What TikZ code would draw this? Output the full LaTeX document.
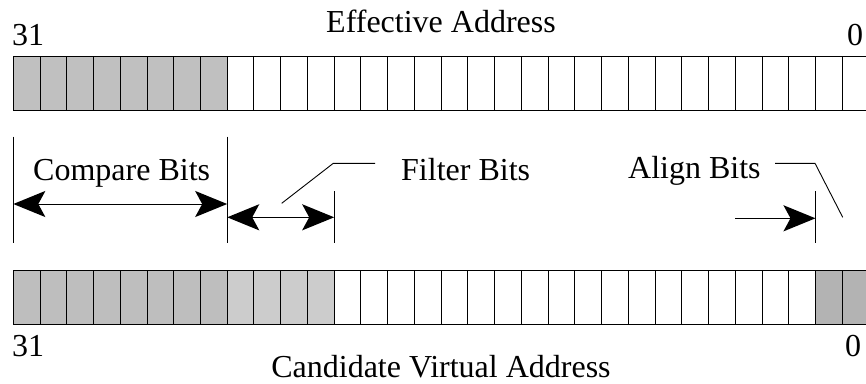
\documentclass[tikz,border=0pt]{standalone}
\usepackage{fontspec}
\setmainfont{Liberation Serif}
\usetikzlibrary{arrows.meta}
\definecolor{topgrey}{HTML}{C0C0C0}
\definecolor{cmpgrey}{HTML}{BEBEBE}
\definecolor{filtgrey}{HTML}{CCCCCC}
\definecolor{aligngrey}{HTML}{B3B3B3}
\begin{document}
\begin{tikzpicture}[x=1pt,y=-1pt,
  lbl/.style={inner sep=0pt, font=\fontsize{32}{38}\selectfont},
  cellbox/.style={draw=black, line width=1pt},
  tick/.style={line width=0.9pt},
  leader/.style={line width=0.9pt},
  bigtip/.tip={Stealth[length=32pt,width=26pt,inset=7pt,line width=2pt]},
  dimarrow/.style={line width=1pt, bigtip-bigtip},
  onearrow/.style={line width=1pt, -bigtip}]
\useasboundingbox (0,0) rectangle (866,383);
\clip (0,0) rectangle (866,383);
\def\xo{13.3}
\def\cw{26.74}
% top register
\foreach \i in {0,...,31}{
  \pgfmathsetmacro{\xx}{\xo+\i*\cw}
  \ifnum\i<8
    \draw[cellbox, fill=topgrey] (\xx,56.5) rectangle ++(\cw,54.2);
  \else
    \draw[cellbox, fill=white] (\xx,56.5) rectangle ++(\cw,54.2);
  \fi
}
% bottom register
\foreach \i in {0,...,31}{
  \pgfmathsetmacro{\xx}{\xo+\i*\cw}
  \ifnum\i<8
    \draw[cellbox, fill=cmpgrey] (\xx,270.7) rectangle ++(\cw,53.6);
  \else\ifnum\i<12
    \draw[cellbox, fill=filtgrey] (\xx,270.7) rectangle ++(\cw,53.6);
  \else\ifnum\i<30
    \draw[cellbox, fill=white] (\xx,270.7) rectangle ++(\cw,53.6);
  \else
    \draw[cellbox, fill=aligngrey] (\xx,270.7) rectangle ++(\cw,53.6);
  \fi\fi\fi
}
% labels
\node[lbl, anchor=base] (ea) at (441,32) {Effective Address};
\node[lbl, anchor=base west] (t31) at (12,45) {31};
\node[lbl, anchor=base west] (t0) at (847,45) {0};
\node[lbl, anchor=base west] (cmp) at (33,180) {Compare Bits};
\node[lbl, anchor=base west] (filt) at (401,180) {Filter Bits};
\node[lbl, anchor=base west] (algn) at (628,178) {Align Bits};
\node[lbl, anchor=base west] (b31) at (12,356) {31};
\node[lbl, anchor=base west] (b0) at (845,356) {0};
\node[lbl, anchor=base] (cva) at (441,377) {Candidate Virtual Address};
% tick coordinates
\coordinate (t1a) at (13.3,136.7);  \coordinate (t1b) at (13.3,243.3);
\coordinate (t2a) at (227.2,136.7); \coordinate (t2b) at (227.2,243.3);
\coordinate (t3a) at (334.2,191);   \coordinate (t3b) at (334.2,243.3);
\coordinate (t4a) at (815.5,191);   \coordinate (t4b) at (815.5,243.3);
\draw[tick] (t1a) -- (t1b);
\draw[tick] (t2a) -- (t2b);
\draw[tick] (t3a) -- (t3b);
\draw[tick] (t4a) -- (t4b);
% dimension arrows
\coordinate (c1) at (13.3,204);  \coordinate (c2) at (227.2,204);
\draw[dimarrow] (c1) -- (c2);
\coordinate (f1) at (227.2,217.3); \coordinate (f2) at (334.2,217.3);
\draw[dimarrow] (f1) -- (f2);
\coordinate (a1) at (735,218.3); \coordinate (a2) at (815.5,218.3);
\draw[onearrow] (a1) -- (a2);
% leaders
\coordinate (fl1) at (281.7,203.3); \coordinate (fl2) at (333.3,163.3); \coordinate (fl3) at (375,163.3);
\draw[leader] (fl1) -- (fl2) -- (fl3);
\coordinate (al1) at (775,163.3); \coordinate (al2) at (815,163.3); \coordinate (al3) at (842.7,217.3);
\draw[leader] (al1) -- (al2) -- (al3);
\end{tikzpicture}
\end{document}
